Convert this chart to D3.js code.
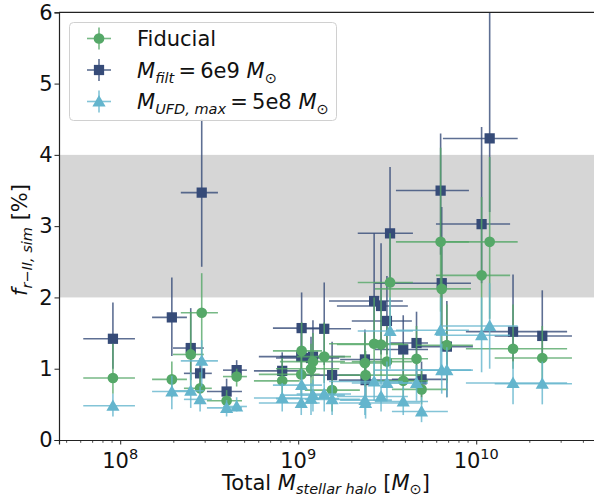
<!DOCTYPE html>
<html><head><meta charset="utf-8">
<script src="https://cdn.jsdelivr.net/npm/d3@7"></script>
<style>body{margin:0;background:#fff}svg{display:block;font-family:"DejaVu Sans",sans-serif}</style>
</head><body>
<script>
// ---- data ----
const mass   = [9.1e7,1.95e8,2.49e8,2.81e8,2.87e8,3.96e8,4.51e8,8.13e8,1.045e9,1.04e9,1.21e9,1.18e9,1.40e9,1.55e9,2.37e9,2.39e9,2.67e9,2.92e9,3.15e9,3.28e9,3.89e9,4.62e9,4.93e9,6.31e9,6.4e9,6.84e9,1.072e10,1.19e10,1.61e10,2.35e10];
const massLo = [6.2e7,1.51e8,1.98e8,2.28e8,2.19e8,3.07e8,3.78e8,5.64e8,7.21e8,6.01e8,7.89e8,7.5e8,9.8e8,1.09e9,1.72e9,1.69e9,1.49e9,1.65e9,2.0e9,2.16e9,2.70e9,3.28e9,3.36e9,3.54e9,2.70e9,4.65e9,5.94e9,6.5e9,8.75e9,1.27e10];
const massHi = [1.21e8,2.37e8,2.95e8,3.27e8,3.54e8,4.83e8,5.15e8,1.02e9,1.36e9,1.32e9,1.83e9,1.7e9,1.98e9,2.22e9,3.36e9,4.83e9,3.87e9,4.13e9,4.35e9,4.41e9,5.36e9,5.36e9,6.93e9,9.1e9,9.34e9,9.58e9,1.55e10,1.71e10,3.24e10,3.45e10];

const fiducial = [0.87,0.85,1.20,0.725,1.785,0.55,0.89,0.83,1.25,0.92,1.10,1.00,1.17,0.70,1.08,0.91,1.35,1.34,1.10,2.21,0.83,1.14,0.71,2.78,2.12,1.33,2.31,2.78,1.28,1.15];
const fidLo    = [0.65,0.6,0.75,0.55,1.1,0.45,0.75,0.65,0.9,0.65,0.75,0.6,0.8,0.4,0.75,0.6,0.9,0.9,0.8,1.6,0.55,0.75,0.5,1.8,1.3,0.8,1.5,1.7,1.0,0.85];
const fidHi    = [1.35,1.10,1.8,0.95,2.34,0.7,1.0,1.15,1.65,1.2,1.5,1.35,1.65,1.0,1.5,1.25,2.0,2.1,1.6,2.9,1.2,1.6,1.0,4.1,2.8,1.9,3.41,3.97,1.9,1.6];

const filt   = [1.42,1.72,1.29,0.935,3.47,0.68,0.98,0.97,1.57,1.17,1.17,1.15,1.56,0.91,1.13,0.84,1.95,1.88,1.67,2.90,1.27,1.36,0.85,3.50,2.20,1.31,3.03,4.23,1.52,1.46];
const filtLo = [1.0,1.18,0.84,0.75,2.43,0.5,0.85,0.78,1.1,0.85,0.9,0.88,1.05,0.6,0.85,0.6,1.3,1.2,1.2,2.2,0.8,0.9,0.6,2.6,1.5,0.6,2.2,3.2,1.1,1.1];
const filtHi = [1.93,2.28,1.85,1.15,4.5,0.86,1.12,1.23,2.07,1.55,1.68,1.45,2.21,1.38,1.55,1.2,2.9,2.76,2.3,3.83,1.75,1.8,1.1,4.3,3.27,1.95,4.39,6.5,2.32,2.10];

const ufd   = [0.48,0.68,0.69,0.57,1.11,0.45,0.47,0.59,0.77,0.52,0.63,0.58,0.645,0.57,0.56,0.52,0.82,0.61,0.80,1.53,0.54,0.80,0.40,1.54,0.98,0.98,1.47,1.60,0.80,0.79];
const ufdLo = [0.33,0.43,0.45,0.4,0.75,0.33,0.4,0.4,0.5,0.35,0.4,0.35,0.4,0.35,0.35,0.3,0.55,0.4,0.55,1.0,0.35,0.55,0.25,1.0,0.65,0.6,0.95,1.0,0.5,0.5];
const ufdHi = [0.65,0.9,0.95,0.75,1.4,0.56,0.6,0.8,1.0,0.75,0.85,0.8,0.9,0.8,0.8,0.75,1.1,0.9,1.1,2.0,0.75,1.05,0.6,2.0,1.35,1.3,2.0,2.2,1.1,1.1];

const bandRange = [2, 4];
const yTicks = [0,1,2,3,4,5,6];
const xMajor = [1e8,1e9,1e10];
const xMajorExp = ["8","9","10"];

// ---- layout ----
const W = 594, H = 499;
const FS = 21, SFS = 14.5;
const svg = d3.select("body").append("svg").attr("width", W).attr("height", H);
const x = d3.scaleLog().domain([4.53e7, 4.77e10]).range([59, 597]);
const y = d3.scaleLinear().domain([0, 6]).range([440, 12.3]);

const cGreen = "#55a868", cBlue = "#364b78", cCyan = "#64b5cd";

svg.append("defs").append("clipPath").attr("id","clip")
  .append("rect").attr("x", x.range()[0]).attr("y", y(6)).attr("width", x.range()[1]-x.range()[0]).attr("height", y(0)-y(6));

// band
svg.append("rect").attr("x", x.range()[0]).attr("y", y(bandRange[1]))
  .attr("width", x.range()[1]-x.range()[0]).attr("height", y(bandRange[0]) - y(bandRange[1]))
  .attr("fill", "#d6d6d6");

const plot = svg.append("g").attr("clip-path","url(#clip)");

function drawSeries(vals, lo, hi, color, shape) {
  const g = plot.append("g");
  const idx = d3.range(vals.length);
  g.selectAll("line.v").data(idx).join("line")
    .attr("x1", i => x(mass[i])).attr("x2", i => x(mass[i]))
    .attr("y1", i => y(lo[i])).attr("y2", i => y(hi[i]))
    .attr("stroke", color).attr("stroke-width", 1.6).attr("stroke-opacity", 0.8);
  g.selectAll("line.h").data(idx).join("line")
    .attr("x1", i => x(massLo[i])).attr("x2", i => x(massHi[i]))
    .attr("y1", i => y(vals[i])).attr("y2", i => y(vals[i]))
    .attr("stroke", color).attr("stroke-width", 1.6).attr("stroke-opacity", 0.8);
  const sym = shape === "circle" ? d3.symbolCircle : shape === "square" ? d3.symbolSquare : d3.symbolTriangle;
  const size = shape === "circle" ? 90 : shape === "square" ? 105 : 75;
  g.selectAll("path").data(idx).join("path")
    .attr("d", d3.symbol().type(sym).size(size))
    .attr("transform", i => `translate(${x(mass[i])},${y(vals[i]) + (shape==="triangle"?1.2:0)})`)
    .attr("fill", color);
}
drawSeries(filt, filtLo, filtHi, cBlue, "square");
drawSeries(fiducial, fidLo, fidHi, cGreen, "circle");
drawSeries(ufd, ufdLo, ufdHi, cCyan, "triangle");

// axes
const axisColor = "#222";
const gx = svg.append("g").attr("transform", `translate(0,${y(0)})`);
gx.call(d3.axisBottom(x).tickValues(xMajor).tickSize(4.5).tickFormat(""));
const minors = [];
for (let e = 7; e <= 10; e++) for (let k = 2; k <= 9; k++) { const v = k*Math.pow(10,e); if (v > x.domain()[0] && v < x.domain()[1]) minors.push(v); }
gx.append("g").selectAll("line").data(minors).join("line")
  .attr("x1", d => x(d)).attr("x2", d => x(d)).attr("y1", 0).attr("y2", 2.8)
  .attr("stroke", axisColor).attr("stroke-width", 0.8);
gx.select(".domain").attr("stroke", axisColor).attr("stroke-width", 1.2);
gx.selectAll(".tick line").attr("stroke", axisColor).attr("stroke-width", 1);
xMajor.forEach((v, i) => {
  const t = svg.append("text").attr("x", x(v)).attr("y", 468).attr("text-anchor","middle")
    .attr("font-size", FS).attr("fill", "#111");
  t.append("tspan").text("10");
  t.append("tspan").attr("dy", -9).attr("font-size", SFS).text(xMajorExp[i]);
});

const gy = svg.append("g").attr("transform", `translate(${x.range()[0]},0)`);
gy.call(d3.axisLeft(y).tickValues(yTicks).tickSize(4.5).tickFormat(d3.format("d")));
gy.select(".domain").attr("stroke", axisColor).attr("stroke-width", 1.2);
gy.selectAll(".tick line").attr("stroke", axisColor);
gy.selectAll(".tick text").attr("font-size", FS).attr("fill","#111").attr("x", -6.5)
  .attr("font-family", "DejaVu Sans");

// top spine
svg.append("line").attr("x1", x.range()[0]).attr("x2", W).attr("y1", y(6)).attr("y2", y(6))
  .attr("stroke", axisColor).attr("stroke-width", 1.2);

// axis labels
const xl = svg.append("text").attr("x", 326).attr("y", 490).attr("text-anchor","middle")
  .attr("font-size", FS).attr("fill", "#111");
xl.append("tspan").text("Total ");
xl.append("tspan").attr("font-style","italic").text("M");
xl.append("tspan").attr("font-style","italic").attr("font-size",SFS).attr("dy",4).text("stellar halo");
xl.append("tspan").attr("dy",-4).text(" [");
xl.append("tspan").attr("font-style","italic").text("M");
xl.append("tspan").attr("font-size",SFS).attr("dy",4).text("⊙");
xl.append("tspan").attr("dy",-4).text("]");

const yl = svg.append("text").attr("transform","translate(27,240) rotate(-90)").attr("text-anchor","middle")
  .attr("font-size", FS).attr("fill", "#111");
yl.append("tspan").attr("font-style","italic").text("f");
yl.append("tspan").attr("font-style","italic").attr("font-size",SFS).attr("dy",5).text("r−II, sim");
yl.append("tspan").attr("dy",-5).text(" [%]");

// legend
const lg = svg.append("g");
lg.append("rect").attr("x", 69.5).attr("y", 22.5).attr("width", 267).attr("height", 98).attr("rx", 4)
  .attr("fill", "#fff").attr("fill-opacity", 0.85).attr("stroke", "#d0d0d0").attr("stroke-width", 1);
const legendItems = [
  {c: cGreen, s: d3.symbolCircle, size: 90, parts: [["Fiducial", "n"]]},
  {c: cBlue, s: d3.symbolSquare, size: 105, parts: [["M","i"],["filt","si"],["\u2009=\u20096e9 ","n"],["M","i"],["⊙","s"]]},
  {c: cCyan, s: d3.symbolTriangle, size: 75, parts: [["M","i"],["UFD, max","si"],["\u2009=\u20095e8 ","n"],["M","i"],["⊙","s"]]}
];
const rowY = [38.5, 70, 101.5];
legendItems.forEach((it, k) => {
  const cy = rowY[k];
  lg.append("line").attr("x1", 87).attr("x2", 111).attr("y1", cy).attr("y2", cy).attr("stroke", it.c).attr("stroke-width",1.6).attr("stroke-opacity",0.8);
  lg.append("line").attr("x1", 99).attr("x2", 99).attr("y1", cy-11).attr("y2", cy+11).attr("stroke", it.c).attr("stroke-width",1.6).attr("stroke-opacity",0.8);
  lg.append("path").attr("d", d3.symbol().type(it.s).size(it.size)).attr("transform", `translate(99,${cy + (k===2?1.2:0)})`).attr("fill", it.c);
  const t = lg.append("text").attr("x", 137).attr("y", cy + 7.5).attr("font-size", FS).attr("fill", "#111");
  let sub = false;
  it.parts.forEach(([str, kind]) => {
    const ts = t.append("tspan").text(str);
    if (kind === "i" || kind === "si") ts.attr("font-style", "italic");
    if (kind === "si" || kind === "s") { ts.attr("font-size", SFS); if (!sub) { ts.attr("dy", 5); sub = true; } }
    else if (sub) { ts.attr("dy", -5); sub = false; }
  });
});
</script>
</body></html>
